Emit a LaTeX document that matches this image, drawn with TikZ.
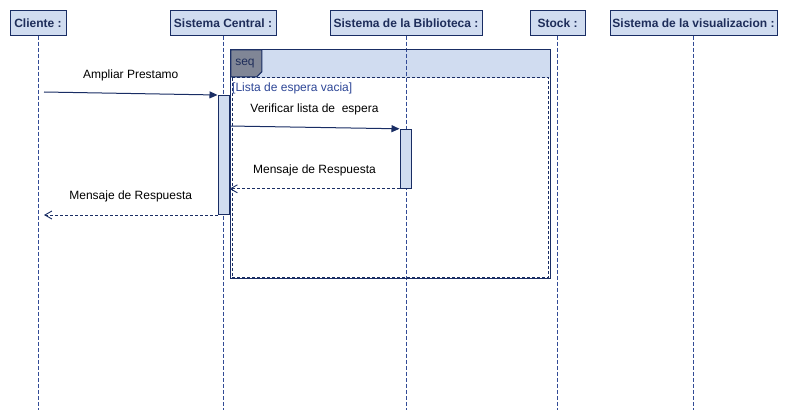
\documentclass[tikz,border=0pt]{standalone}
\usepackage{fontspec}
\setmainfont{Liberation Sans}
\usepackage{tikz}
\usepackage{xcolor}
\usetikzlibrary{arrows.meta}
\definecolor{umlline}{RGB}{25,45,100}
\definecolor{umlfill}{RGB}{208,220,240}
\definecolor{umltext}{RGB}{30,45,90}
\definecolor{umllife}{RGB}{50,75,150}
\definecolor{umltab}{RGB}{128,134,150}
\definecolor{umlguard}{RGB}{45,70,150}

\begin{document}
\begin{tikzpicture}[x=1pt,y=-1pt,
    every node/.style={font=\fontsize{12}{14}\selectfont},
    head/.style={draw=umlline,fill=umlfill,line width=1pt,minimum height=25pt,inner xsep=0pt,
        font=\fontsize{12}{14}\selectfont\bfseries,text=umltext},
    life/.style={umllife,line width=0.9pt,dash pattern=on 4pt off 2pt},
    act/.style={draw=umlline,fill=umlfill,line width=1pt,minimum width=11pt,inner sep=0pt},
    call/.style={umlline,line width=1pt,-{Triangle[length=8pt,width=7pt]}},
    reply/.style={umlline,line width=0.9pt,dash pattern=on 3pt off 2pt,-{Straight Barb[length=7pt,width=8pt]}},
    msg/.style={midway,above=9pt,text=black}]
    \useasboundingbox (0,0) rectangle (788,420);

    \path (38,22.75) node [head,minimum width=56pt] (cli) {Cliente :};
    \path (223,22.75) node [head,minimum width=106pt] (cen) {Sistema Central :};
    \path (406,22.75) node [head,minimum width=152pt] (bib) {Sistema de la Biblioteca :};
    \path (557.5,22.75) node [head,minimum width=55pt] (sto) {Stock :};
    \path (693.5,22.75) node [head,minimum width=167pt] (vis) {Sistema de la visualizacion :};

    \path (390.5,164.25) node [minimum width=319pt,minimum height=228.5pt,inner sep=0pt] (seq) {};
    \fill [umlfill] (seq.north west) rectangle ([yshift=-28pt]seq.north east);
    \foreach \n in {cli,cen,bib,sto,vis}
        \draw [life] (\n.south) -- (\n.south |- 0,410);
    \draw [umlline,line width=1.2pt] (seq.north west) rectangle (seq.south east);
    \draw [umlline,line width=0.9pt,dash pattern=on 3pt off 2pt]
        ([xshift=1.3pt,yshift=-28pt]seq.north west) rectangle ([xshift=-1.3pt,yshift=1.2pt]seq.south east);
    \draw [umlline,fill=umltab,line width=1pt] (seq.north west) -- ++(31,0) -- ++(0,22) -- ++(-5,5)
        -- ++(-26,0) -- cycle;
    \path (245,64) node [text=umltext] (seqlbl) {seq};
    \path (232,88) node [anchor=west,inner sep=0pt,text=umlguard] (guard) {[Lista de espera vacia]};

    \path (223.5,155) node [act,minimum height=119pt] (act1) {};
    \path (405.5,158.8) node [act,minimum height=59pt] (act2) {};

    \coordinate (cli1) at (44,92);
    \coordinate (cli2) at (44,215);
    \draw [call] (cli1) -- (act1.north west) node [msg] (m1) {Ampliar Prestamo};
    \draw [call] ([yshift=-31pt]act1.north east) -- (act2.north west) node [msg] (m2) {Verificar lista de~~espera};
    \draw [reply] (act2.south west) -- (act2.south west -| act1.east) node [msg] (m3) {Mensaje de Respuesta};
    \draw [reply] (act1.south west |- cli2) -- (cli2) node [msg] (m4) {Mensaje de Respuesta};
\end{tikzpicture}
\end{document}
